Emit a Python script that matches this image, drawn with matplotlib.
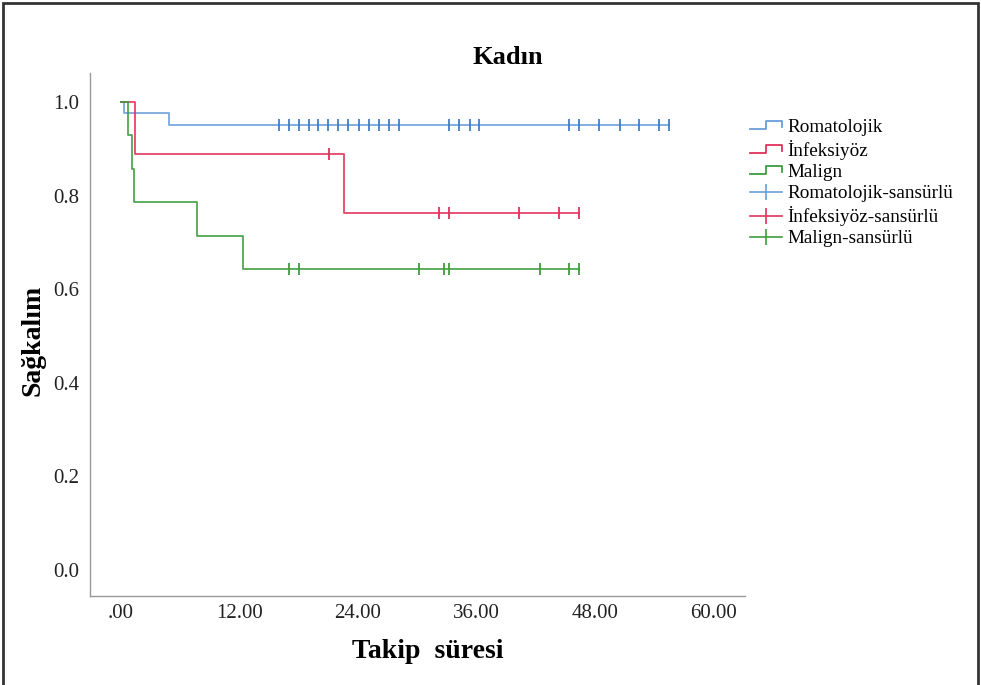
import matplotlib
matplotlib.use("Agg")
import matplotlib.pyplot as plt
from matplotlib.lines import Line2D
from matplotlib.legend_handler import HandlerBase
from matplotlib.patches import Rectangle

plt.rcParams['font.family'] = ['Liberation Serif', 'DejaVu Serif']

# Kaplan-Meier steps (time in months, survival)
rom_t = [0, 0.3, 4.9]
rom_s = [1.0, 0.976, 0.951]
rom_end = 55.5
rom_cens = [16.0, 17.0, 18.0, 19.0, 20.0, 21.0, 22.0, 23.0, 24.1, 25.1, 26.1, 27.1,
            28.2, 33.2, 34.2, 35.3, 36.3, 45.4, 46.4, 48.4, 50.5, 52.5, 54.5, 55.5]

inf_t = [0, 1.4, 22.6]
inf_s = [1.0, 0.889, 0.762]
inf_end = 46.4
inf_cens_t = [21.1, 32.2, 33.2, 40.3, 44.4, 46.4]
inf_cens_s = [0.889, 0.762, 0.762, 0.762, 0.762, 0.762]

mal_t = [0, 0.7, 1.1, 1.3, 7.7, 12.4]
mal_s = [1.0, 0.929, 0.857, 0.786, 0.714, 0.643]
mal_end = 46.4
mal_cens = [17.0, 18.0, 30.2, 32.7, 33.2, 42.4, 45.4, 46.4]

labels = ['Romatolojik', 'İnfeksiyöz', 'Malign',
          'Romatolojik-sansürlü', 'İnfeksiyöz-sansürlü', 'Malign-sansürlü']

c_blue = '#6a9fd8'
c_blue_d = '#3f7fc6'
c_red = '#e3305a'
c_green = '#3f9c3f'

fig = plt.figure(figsize=(9.81, 6.85), dpi=100)
ax = fig.add_axes([90/981, 1-596/685, (745-90)/981, (596-73)/685])


def km(ax, t, s, end, col):
    xs = list(t) + [end]
    ys = list(s) + [s[-1]]
    ax.step(xs, ys, where='post', color=col, lw=1.3, alpha=0.9)


km(ax, rom_t, rom_s, rom_end, c_blue)
km(ax, inf_t, inf_s, inf_end, c_red)
km(ax, mal_t, mal_s, mal_end, c_green)

ax.plot(rom_cens, [rom_s[-1]]*len(rom_cens), ls='none', marker='|', ms=8, mew=1.3, color=c_blue_d)
ax.plot(inf_cens_t, inf_cens_s, ls='none', marker='|', ms=8, mew=1.3, color=c_red)
ax.plot(mal_cens, [mal_s[-1]]*len(mal_cens), ls='none', marker='|', ms=8, mew=1.3, color=c_green)

ax.set_xlim(-3.14, 63.2)
ax.set_ylim(-0.056, 1.062)
ax.set_xticks([0, 12, 24, 36, 48, 60])
ax.set_xticklabels(['.00', '12.00', '24.00', '36.00', '48.00', '60.00'])
ax.set_yticks([0, 0.2, 0.4, 0.6, 0.8, 1.0])
ax.set_yticklabels(['0.0', '0.2', '0.4', '0.6', '0.8', '1.0'])
ax.tick_params(length=0, labelsize=15, colors='#222222')
ax.tick_params(axis='x', pad=6)
ax.tick_params(axis='y', pad=8)
ax.spines['top'].set_visible(False)
ax.spines['right'].set_visible(False)
for sp in ['left', 'bottom']:
    ax.spines[sp].set_color('#999999')
    ax.spines[sp].set_linewidth(1.0)

fig.text(508/981, 1-58/685, 'Kadın', ha='center', va='center', fontsize=19, fontweight='bold')
fig.text(428/981, 1-652/685, 'Takip  süresi', ha='center', va='center', fontsize=20, fontweight='bold')
fig.text(33/981, 1-340/685, 'Sağkalım', ha='center', va='center', rotation=90,
         fontsize=20, fontweight='bold')


class StepHandler(HandlerBase):
    def create_artists(self, legend, orig_handle, xdescent, ydescent, width, height, fontsize, trans):
        x0 = -xdescent
        y0 = -ydescent
        xs = [x0, x0 + 0.5*width, x0 + 0.5*width, x0 + width, x0 + width]
        ys = [y0 + 0.2*height, y0 + 0.2*height, y0 + 0.85*height, y0 + 0.85*height, y0 + 0.4*height]
        ln = Line2D(xs, ys, color=orig_handle.get_color(), lw=1.3, transform=trans)
        return [ln]


h_step = [Line2D([], [], color=c) for c in (c_blue, c_red, c_green)]
h_cens = [Line2D([], [], color=c, marker='|', ms=11, mew=1.2, lw=1.2)
          for c in (c_blue, c_red, c_green)]
handler_map = {h: StepHandler() for h in h_step}
fig.legend(h_step + h_cens, labels, loc='upper left', bbox_to_anchor=(742/981, 1-111/685),
           frameon=False, fontsize=13.8, handlelength=1.7, handletextpad=0.25,
           labelspacing=0.2, handler_map=handler_map, borderaxespad=0)

fig.add_artist(Rectangle((0.003, -0.01), 0.994, 1.005, transform=fig.transFigure,
                         fill=False, edgecolor='#333333', lw=2))

fig.savefig('out.png', dpi=100)
